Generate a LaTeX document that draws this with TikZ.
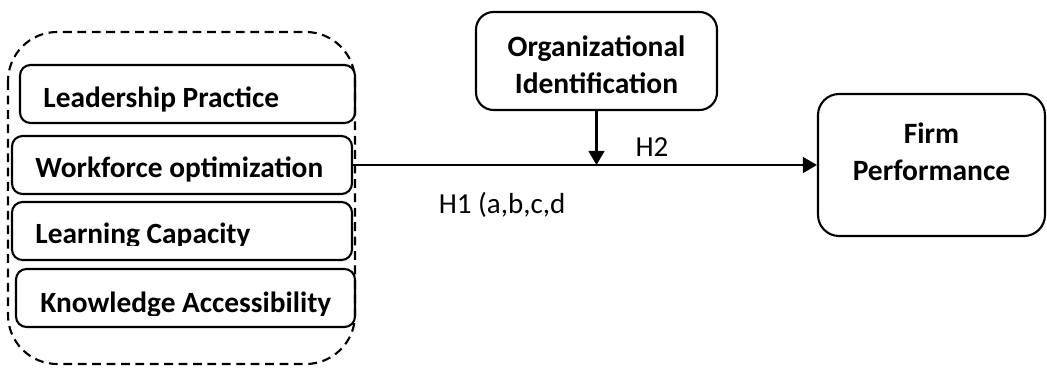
\documentclass[tikz,border=0pt]{standalone}
\usepackage{fontspec}
\setmainfont{Carlito}
\usetikzlibrary{arrows.meta}

\tikzset{
  factor/.style={draw, rounded corners=6pt, line width=1.2pt, minimum height=1.16cm, inner sep=0pt},
  factortext/.style={anchor=base west, inner sep=0pt, font=\fontsize{16.7}{20}\selectfont\bfseries},
  construct/.style={draw, rounded corners=10pt, line width=1.2pt, align=center, inner sep=0pt, font=\fontsize{16.8}{21}\selectfont\bfseries},
  hyp/.style={inner sep=0pt, font=\fontsize{16.5}{19}\selectfont},
  link/.style={line width=1.2pt, -{Triangle[length=8pt,width=9pt]}}
}

\begin{document}
\begin{tikzpicture}
\useasboundingbox (0,0) rectangle (20.94,-7.48);

% dashed group round the four factors
\draw[dash pattern=on 5pt off 3.2pt, line width=1.2pt, rounded corners=28pt] (0.16,-0.64) rectangle (7.1,-7.28);

\node[factor, minimum width=6.7cm] (lead) at (3.75,-1.88) {};
\node[factortext] (leadtxt) at (0.86,-2.14) {Leadership Practice};

\node[factor, minimum width=6.8cm] (work) at (3.64,-3.3) {};
\node[factortext] (worktxt) at (0.7,-3.54) {Workforce optimization};

\node[factor, minimum width=6.8cm] (learn) at (3.64,-4.62) {};
\begin{scope}
  \clip (0.24,-4.04) rectangle (7.04,-4.9);
  \node[factortext] (learntxt) at (0.7,-4.86) {Learning Capacity};
\end{scope}

\node[factor, minimum width=6.78cm] (know) at (3.71,-5.96) {};
\begin{scope}
  \clip (0.32,-5.38) rectangle (7.1,-6.3);
  \node[factortext] (knowtxt) at (0.8,-6.24) {Knowledge Accessibility};
\end{scope}

% moderator and outcome
\node[construct, minimum width=4.82cm, minimum height=1.96cm, text height=1.3cm] (org) at (11.93,-1.22) {Organizational\\Identification};
\node[construct, rounded corners=12pt, minimum width=4.54cm, minimum height=2.84cm, text depth=0.54cm] (firm) at (18.63,-3.3) {Firm\\Performance};

\coordinate (meet) at (org.south |- work.east);
\draw[link] (work.east) -- (firm.west);
\draw[link] (org.south) -- (meet);

\node[hyp] (h2) at (13.04,-2.94) {H2};
\node[hyp] (h1) at (10.04,-4.1) {H1 (a,b,c,d};
\end{tikzpicture}
\end{document}
